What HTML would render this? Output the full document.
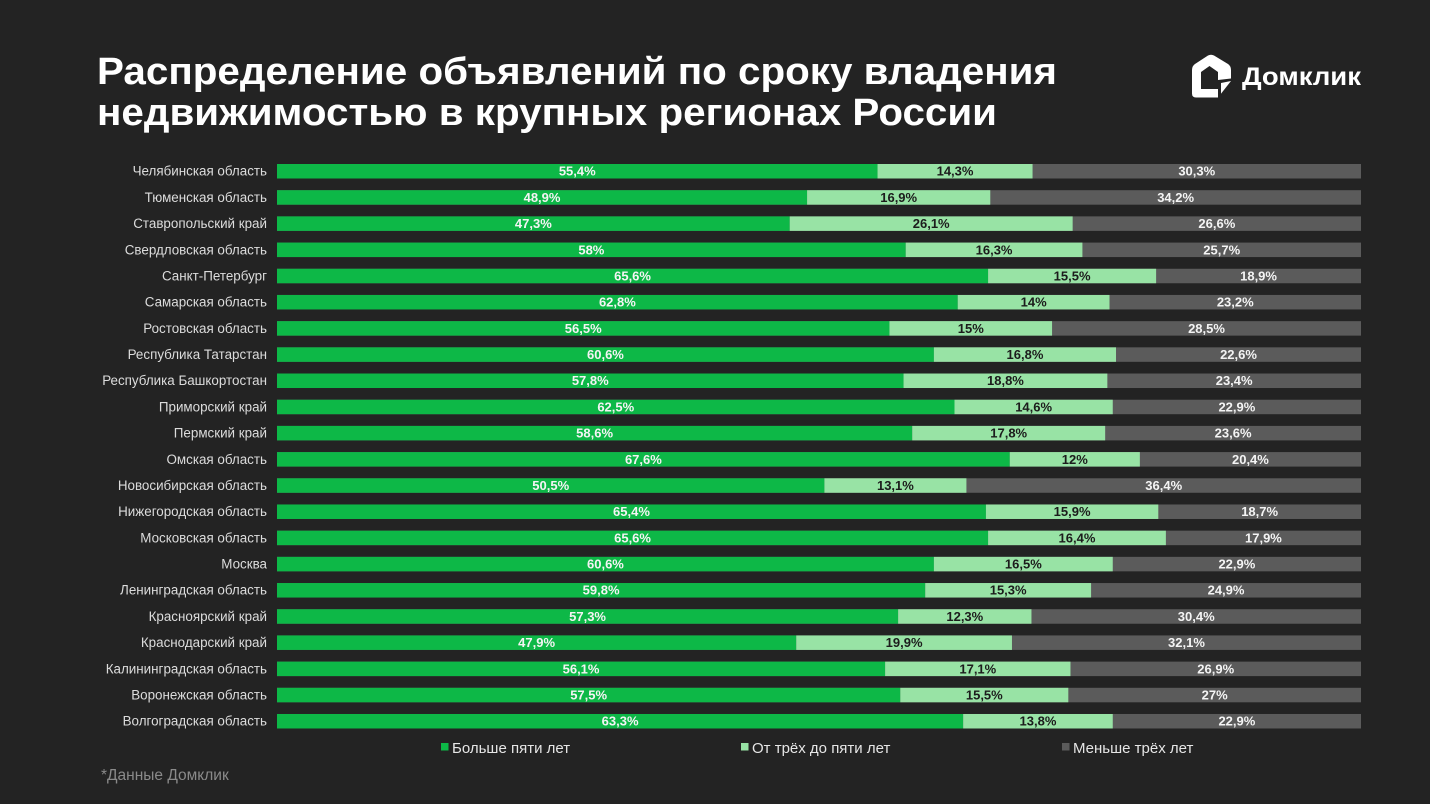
<!DOCTYPE html>
<html><head><meta charset="utf-8"><style>
html,body{margin:0;padding:0;background:#232323;}
svg{display:block;}
.lab{font-family:"Liberation Sans","DejaVu Sans",sans-serif;font-size:13.4px;fill:#dcdcdc;text-anchor:end;}
.v{font-family:"Liberation Sans","DejaVu Sans",sans-serif;font-size:13px;font-weight:bold;text-anchor:middle;}
.w{fill:#f4f4f4;}
.d{fill:#1c1c1c;}
</style></head><body>
<svg width="1430" height="804" viewBox="0 0 1430 804" xmlns="http://www.w3.org/2000/svg">
<rect width="1430" height="804" fill="#232323"/>
<g font-family="Liberation Sans, DejaVu Sans, sans-serif" font-weight="bold" fill="#ffffff" font-size="38">
<text x="97" y="84" textLength="960" lengthAdjust="spacingAndGlyphs">Распределение объявлений по сроку владения</text>
<text x="97" y="125" textLength="900" lengthAdjust="spacingAndGlyphs">недвижимостью в крупных регионах России</text>
</g>
<!-- logo -->
<path d="M1192,70 Q1192,66 1195,64 L1208,55.5 Q1211,54 1214,55.5 L1228,64 Q1231,66 1231,70 L1231,81 L1218,97.5 L1196,97.5 Q1192,97.5 1192,93.5 Z" fill="#ffffff"/>
<path d="M1201,72 L1209.5,66 L1218,72 L1218,89 L1201,89 Z" fill="#232323"/>
<path d="M1218,80 L1231,78.5 L1231,81 L1221,83 L1221,97.5 L1218,97.5 Z" fill="#232323"/>
<text x="1242" y="85" font-family="Liberation Sans, DejaVu Sans, sans-serif" font-weight="bold" font-size="25" fill="#ffffff" textLength="119" lengthAdjust="spacingAndGlyphs">Домклик</text>

<g transform="translate(0,164)"><text class="lab" x="267" y="11.7">Челябинская область</text><rect x="277" width="1084" height="14.5" fill="#5b5b5b"/><rect x="277" width="600.54" height="14.5" fill="#0db847"/><rect x="877.54" width="155.01" height="14.5" fill="#98e3a5"/><text class="v w" x="577.27" y="11.7">55,4%</text><text class="v d" x="955.04" y="11.7">14,3%</text><text class="v w" x="1196.78" y="11.7">30,3%</text></g>
<g transform="translate(0,190.19)"><text class="lab" x="267" y="11.7">Тюменская область</text><rect x="277" width="1084" height="14.5" fill="#5b5b5b"/><rect x="277" width="530.08" height="14.5" fill="#0db847"/><rect x="807.08" width="183.2" height="14.5" fill="#98e3a5"/><text class="v w" x="542.04" y="11.7">48,9%</text><text class="v d" x="898.68" y="11.7">16,9%</text><text class="v w" x="1175.64" y="11.7">34,2%</text></g>
<g transform="translate(0,216.38)"><text class="lab" x="267" y="11.7">Ставропольский край</text><rect x="277" width="1084" height="14.5" fill="#5b5b5b"/><rect x="277" width="512.73" height="14.5" fill="#0db847"/><rect x="789.73" width="282.92" height="14.5" fill="#98e3a5"/><text class="v w" x="533.37" y="11.7">47,3%</text><text class="v d" x="931.19" y="11.7">26,1%</text><text class="v w" x="1216.83" y="11.7">26,6%</text></g>
<g transform="translate(0,242.57)"><text class="lab" x="267" y="11.7">Свердловская область</text><rect x="277" width="1084" height="14.5" fill="#5b5b5b"/><rect x="277" width="628.72" height="14.5" fill="#0db847"/><rect x="905.72" width="176.69" height="14.5" fill="#98e3a5"/><text class="v w" x="591.36" y="11.7">58%</text><text class="v d" x="994.07" y="11.7">16,3%</text><text class="v w" x="1221.71" y="11.7">25,7%</text></g>
<g transform="translate(0,268.76)"><text class="lab" x="267" y="11.7">Санкт-Петербург</text><rect x="277" width="1084" height="14.5" fill="#5b5b5b"/><rect x="277" width="711.1" height="14.5" fill="#0db847"/><rect x="988.1" width="168.02" height="14.5" fill="#98e3a5"/><text class="v w" x="632.55" y="11.7">65,6%</text><text class="v d" x="1072.11" y="11.7">15,5%</text><text class="v w" x="1258.56" y="11.7">18,9%</text></g>
<g transform="translate(0,294.95)"><text class="lab" x="267" y="11.7">Самарская область</text><rect x="277" width="1084" height="14.5" fill="#5b5b5b"/><rect x="277" width="680.75" height="14.5" fill="#0db847"/><rect x="957.75" width="151.76" height="14.5" fill="#98e3a5"/><text class="v w" x="617.38" y="11.7">62,8%</text><text class="v d" x="1033.63" y="11.7">14%</text><text class="v w" x="1235.26" y="11.7">23,2%</text></g>
<g transform="translate(0,321.14)"><text class="lab" x="267" y="11.7">Ростовская область</text><rect x="277" width="1084" height="14.5" fill="#5b5b5b"/><rect x="277" width="612.46" height="14.5" fill="#0db847"/><rect x="889.46" width="162.6" height="14.5" fill="#98e3a5"/><text class="v w" x="583.23" y="11.7">56,5%</text><text class="v d" x="970.76" y="11.7">15%</text><text class="v w" x="1206.53" y="11.7">28,5%</text></g>
<g transform="translate(0,347.33)"><text class="lab" x="267" y="11.7">Республика Татарстан</text><rect x="277" width="1084" height="14.5" fill="#5b5b5b"/><rect x="277" width="656.9" height="14.5" fill="#0db847"/><rect x="933.9" width="182.11" height="14.5" fill="#98e3a5"/><text class="v w" x="605.45" y="11.7">60,6%</text><text class="v d" x="1024.96" y="11.7">16,8%</text><text class="v w" x="1238.51" y="11.7">22,6%</text></g>
<g transform="translate(0,373.52)"><text class="lab" x="267" y="11.7">Республика Башкортостан</text><rect x="277" width="1084" height="14.5" fill="#5b5b5b"/><rect x="277" width="626.55" height="14.5" fill="#0db847"/><rect x="903.55" width="203.79" height="14.5" fill="#98e3a5"/><text class="v w" x="590.28" y="11.7">57,8%</text><text class="v d" x="1005.45" y="11.7">18,8%</text><text class="v w" x="1234.17" y="11.7">23,4%</text></g>
<g transform="translate(0,399.71)"><text class="lab" x="267" y="11.7">Приморский край</text><rect x="277" width="1084" height="14.5" fill="#5b5b5b"/><rect x="277" width="677.5" height="14.5" fill="#0db847"/><rect x="954.5" width="158.26" height="14.5" fill="#98e3a5"/><text class="v w" x="615.75" y="11.7">62,5%</text><text class="v d" x="1033.63" y="11.7">14,6%</text><text class="v w" x="1236.88" y="11.7">22,9%</text></g>
<g transform="translate(0,425.9)"><text class="lab" x="267" y="11.7">Пермский край</text><rect x="277" width="1084" height="14.5" fill="#5b5b5b"/><rect x="277" width="635.22" height="14.5" fill="#0db847"/><rect x="912.22" width="192.95" height="14.5" fill="#98e3a5"/><text class="v w" x="594.61" y="11.7">58,6%</text><text class="v d" x="1008.7" y="11.7">17,8%</text><text class="v w" x="1233.09" y="11.7">23,6%</text></g>
<g transform="translate(0,452.09)"><text class="lab" x="267" y="11.7">Омская область</text><rect x="277" width="1084" height="14.5" fill="#5b5b5b"/><rect x="277" width="732.78" height="14.5" fill="#0db847"/><rect x="1009.78" width="130.08" height="14.5" fill="#98e3a5"/><text class="v w" x="643.39" y="11.7">67,6%</text><text class="v d" x="1074.82" y="11.7">12%</text><text class="v w" x="1250.43" y="11.7">20,4%</text></g>
<g transform="translate(0,478.28)"><text class="lab" x="267" y="11.7">Новосибирская область</text><rect x="277" width="1084" height="14.5" fill="#5b5b5b"/><rect x="277" width="547.42" height="14.5" fill="#0db847"/><rect x="824.42" width="142" height="14.5" fill="#98e3a5"/><text class="v w" x="550.71" y="11.7">50,5%</text><text class="v d" x="895.42" y="11.7">13,1%</text><text class="v w" x="1163.71" y="11.7">36,4%</text></g>
<g transform="translate(0,504.47)"><text class="lab" x="267" y="11.7">Нижегородская область</text><rect x="277" width="1084" height="14.5" fill="#5b5b5b"/><rect x="277" width="708.94" height="14.5" fill="#0db847"/><rect x="985.94" width="172.36" height="14.5" fill="#98e3a5"/><text class="v w" x="631.47" y="11.7">65,4%</text><text class="v d" x="1072.12" y="11.7">15,9%</text><text class="v w" x="1259.65" y="11.7">18,7%</text></g>
<g transform="translate(0,530.66)"><text class="lab" x="267" y="11.7">Московская область</text><rect x="277" width="1084" height="14.5" fill="#5b5b5b"/><rect x="277" width="711.1" height="14.5" fill="#0db847"/><rect x="988.1" width="177.78" height="14.5" fill="#98e3a5"/><text class="v w" x="632.55" y="11.7">65,6%</text><text class="v d" x="1076.99" y="11.7">16,4%</text><text class="v w" x="1263.44" y="11.7">17,9%</text></g>
<g transform="translate(0,556.85)"><text class="lab" x="267" y="11.7">Москва</text><rect x="277" width="1084" height="14.5" fill="#5b5b5b"/><rect x="277" width="656.9" height="14.5" fill="#0db847"/><rect x="933.9" width="178.86" height="14.5" fill="#98e3a5"/><text class="v w" x="605.45" y="11.7">60,6%</text><text class="v d" x="1023.33" y="11.7">16,5%</text><text class="v w" x="1236.88" y="11.7">22,9%</text></g>
<g transform="translate(0,583.04)"><text class="lab" x="267" y="11.7">Ленинградская область</text><rect x="277" width="1084" height="14.5" fill="#5b5b5b"/><rect x="277" width="648.23" height="14.5" fill="#0db847"/><rect x="925.23" width="165.85" height="14.5" fill="#98e3a5"/><text class="v w" x="601.12" y="11.7">59,8%</text><text class="v d" x="1008.16" y="11.7">15,3%</text><text class="v w" x="1226.04" y="11.7">24,9%</text></g>
<g transform="translate(0,609.23)"><text class="lab" x="267" y="11.7">Красноярский край</text><rect x="277" width="1084" height="14.5" fill="#5b5b5b"/><rect x="277" width="621.13" height="14.5" fill="#0db847"/><rect x="898.13" width="133.33" height="14.5" fill="#98e3a5"/><text class="v w" x="587.57" y="11.7">57,3%</text><text class="v d" x="964.8" y="11.7">12,3%</text><text class="v w" x="1196.23" y="11.7">30,4%</text></g>
<g transform="translate(0,635.42)"><text class="lab" x="267" y="11.7">Краснодарский край</text><rect x="277" width="1084" height="14.5" fill="#5b5b5b"/><rect x="277" width="519.24" height="14.5" fill="#0db847"/><rect x="796.24" width="215.72" height="14.5" fill="#98e3a5"/><text class="v w" x="536.62" y="11.7">47,9%</text><text class="v d" x="904.1" y="11.7">19,9%</text><text class="v w" x="1186.48" y="11.7">32,1%</text></g>
<g transform="translate(0,661.61)"><text class="lab" x="267" y="11.7">Калининградская область</text><rect x="277" width="1084" height="14.5" fill="#5b5b5b"/><rect x="277" width="608.12" height="14.5" fill="#0db847"/><rect x="885.12" width="185.36" height="14.5" fill="#98e3a5"/><text class="v w" x="581.06" y="11.7">56,1%</text><text class="v d" x="977.8" y="11.7">17,1%</text><text class="v w" x="1215.74" y="11.7">26,9%</text></g>
<g transform="translate(0,687.8)"><text class="lab" x="267" y="11.7">Воронежская область</text><rect x="277" width="1084" height="14.5" fill="#5b5b5b"/><rect x="277" width="623.3" height="14.5" fill="#0db847"/><rect x="900.3" width="168.02" height="14.5" fill="#98e3a5"/><text class="v w" x="588.65" y="11.7">57,5%</text><text class="v d" x="984.31" y="11.7">15,5%</text><text class="v w" x="1214.66" y="11.7">27%</text></g>
<g transform="translate(0,713.99)"><text class="lab" x="267" y="11.7">Волгоградская область</text><rect x="277" width="1084" height="14.5" fill="#5b5b5b"/><rect x="277" width="686.17" height="14.5" fill="#0db847"/><rect x="963.17" width="149.59" height="14.5" fill="#98e3a5"/><text class="v w" x="620.09" y="11.7">63,3%</text><text class="v d" x="1037.97" y="11.7">13,8%</text><text class="v w" x="1236.88" y="11.7">22,9%</text></g>

<!-- legend -->
<g font-family="Liberation Sans, DejaVu Sans, sans-serif" font-size="15" fill="#e6e6e6">
<rect x="441" y="743" width="7.5" height="7.5" fill="#0db847"/>
<text x="452" y="753">Больше пяти лет</text>
<rect x="741" y="743" width="7.5" height="7.5" fill="#98e3a5"/>
<text x="752" y="753">От трёх до пяти лет</text>
<rect x="1062" y="743" width="7.5" height="7.5" fill="#5b5b5b"/>
<text x="1073" y="753">Меньше трёх лет</text>
</g>
<text x="101" y="780" font-family="Liberation Sans, DejaVu Sans, sans-serif" font-size="15.5" fill="#8a8a8a">*Данные Домклик</text>
</svg>
</body></html>
